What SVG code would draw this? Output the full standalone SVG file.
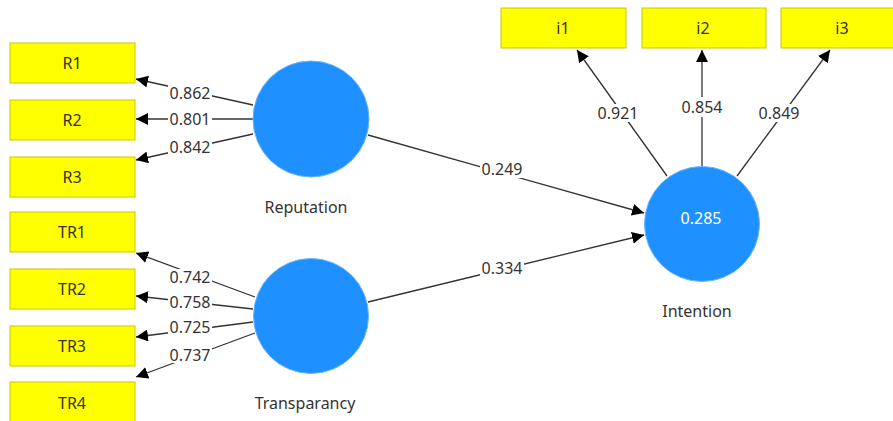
<svg xmlns="http://www.w3.org/2000/svg" width="893" height="421" viewBox="0 0 893 421">
<defs>
<marker id="ah" viewBox="0 0 10 10" refX="10" refY="5" markerWidth="12" markerHeight="12" markerUnits="userSpaceOnUse" orient="auto">
<path d="M0,0 L10,5 L0,10 z" fill="#000"/>
</marker>
</defs>
<style>
.box{fill:#FFFF00;stroke:#C8C800;stroke-width:1}
.bt{font-family:"Noto Sans","DejaVu Sans",sans-serif;font-size:16px;fill:#333;text-anchor:middle;dominant-baseline:central}
.lv{fill:#1E90FF;stroke:#6CB4FF;stroke-width:1}
.ln{stroke:#333;stroke-width:1.3;fill:none;marker-end:url(#ah)}
.lb{fill:#fff}
.lt{font-family:"Noto Sans","DejaVu Sans",sans-serif;font-size:16px;fill:#333;text-anchor:middle;dominant-baseline:central}
.wt{font-family:"Noto Sans","DejaVu Sans",sans-serif;font-size:16px;fill:#fff;text-anchor:middle;dominant-baseline:central}
</style>
<rect width="893" height="421" fill="#fff"/>
<g id="connectors">
<line class="ln" x1="253" y1="105" x2="136" y2="79"/>
<line class="ln" x1="253" y1="119" x2="136" y2="119"/>
<line class="ln" x1="253" y1="134" x2="136" y2="160"/>
<line class="ln" x1="255" y1="297" x2="136" y2="253"/>
<line class="ln" x1="253" y1="309" x2="136" y2="296"/>
<line class="ln" x1="253" y1="322" x2="136" y2="337"/>
<line class="ln" x1="255" y1="333" x2="136" y2="377"/>
<line class="ln" x1="667" y1="176" x2="577" y2="50"/>
<line class="ln" x1="702" y1="166" x2="702" y2="50"/>
<line class="ln" x1="737" y1="176" x2="830" y2="50"/>
<line class="ln" x1="368" y1="135" x2="644" y2="213"/>
<line class="ln" x1="368" y1="302" x2="644" y2="235"/>
<g id="labels">
<rect class="lb" x="168" y="85" width="44" height="16"/><text class="lt" x="190" y="93">0.862</text>
<rect class="lb" x="168" y="111" width="44" height="16"/><text class="lt" x="190" y="119">0.801</text>
<rect class="lb" x="168" y="139" width="44" height="16"/><text class="lt" x="190" y="147">0.842</text>
<rect class="lb" x="168" y="269" width="44" height="16"/><text class="lt" x="190" y="277">0.742</text>
<rect class="lb" x="168" y="294" width="44" height="16"/><text class="lt" x="190" y="302">0.758</text>
<rect class="lb" x="168" y="319" width="44" height="16"/><text class="lt" x="190" y="327">0.725</text>
<rect class="lb" x="168" y="347" width="44" height="16"/><text class="lt" x="190" y="355">0.737</text>
<rect class="lb" x="596" y="104" width="44" height="18"/><text class="lt" x="618" y="113">0.921</text>
<rect class="lb" x="680" y="97" width="44" height="20"/><text class="lt" x="702" y="107">0.854</text>
<rect class="lb" x="757" y="104" width="44" height="18"/><text class="lt" x="779" y="113">0.849</text>
<rect class="lb" x="480" y="160" width="44" height="18"/><text class="lt" x="502" y="169">0.249</text>
<rect class="lb" x="480" y="259" width="44" height="18"/><text class="lt" x="502" y="268">0.334</text>
</g>
</g>
<g id="R1"><rect class="box" x="10" y="43" width="125" height="40"/><text class="bt" x="72" y="63">R1</text></g>
<g id="R2"><rect class="box" x="10" y="100" width="125" height="40"/><text class="bt" x="72" y="120">R2</text></g>
<g id="R3"><rect class="box" x="10" y="157" width="125" height="40"/><text class="bt" x="72" y="177">R3</text></g>
<g id="TR1"><rect class="box" x="10" y="212" width="125" height="40"/><text class="bt" x="72" y="232">TR1</text></g>
<g id="TR2"><rect class="box" x="10" y="269" width="125" height="40"/><text class="bt" x="72" y="289">TR2</text></g>
<g id="TR3"><rect class="box" x="10" y="326" width="125" height="40"/><text class="bt" x="72" y="346">TR3</text></g>
<g id="TR4"><rect class="box" x="10" y="382" width="125" height="40"/><text class="bt" x="72" y="403">TR4</text></g>
<g id="i1"><rect class="box" x="501" y="8" width="125" height="40"/><text class="bt" x="563" y="28">i1</text></g>
<g id="i2"><rect class="box" x="642" y="8" width="124" height="40"/><text class="bt" x="703" y="28">i2</text></g>
<g id="i3"><rect class="box" x="781" y="8" width="124" height="40"/><text class="bt" x="842" y="28">i3</text></g>
<g id="Reputation"><circle class="lv" cx="311" cy="119" r="58"/><text class="lt" x="306" y="207">Reputation</text></g>
<g id="Transparancy"><circle class="lv" cx="311" cy="316" r="57.5"/><text class="lt" x="305" y="403">Transparancy</text></g>
<g id="Intention"><circle class="lv" cx="702" cy="224" r="57.5"/><text class="wt" x="701" y="218">0.285</text><text class="lt" x="697" y="311">Intention</text></g>
</svg>
